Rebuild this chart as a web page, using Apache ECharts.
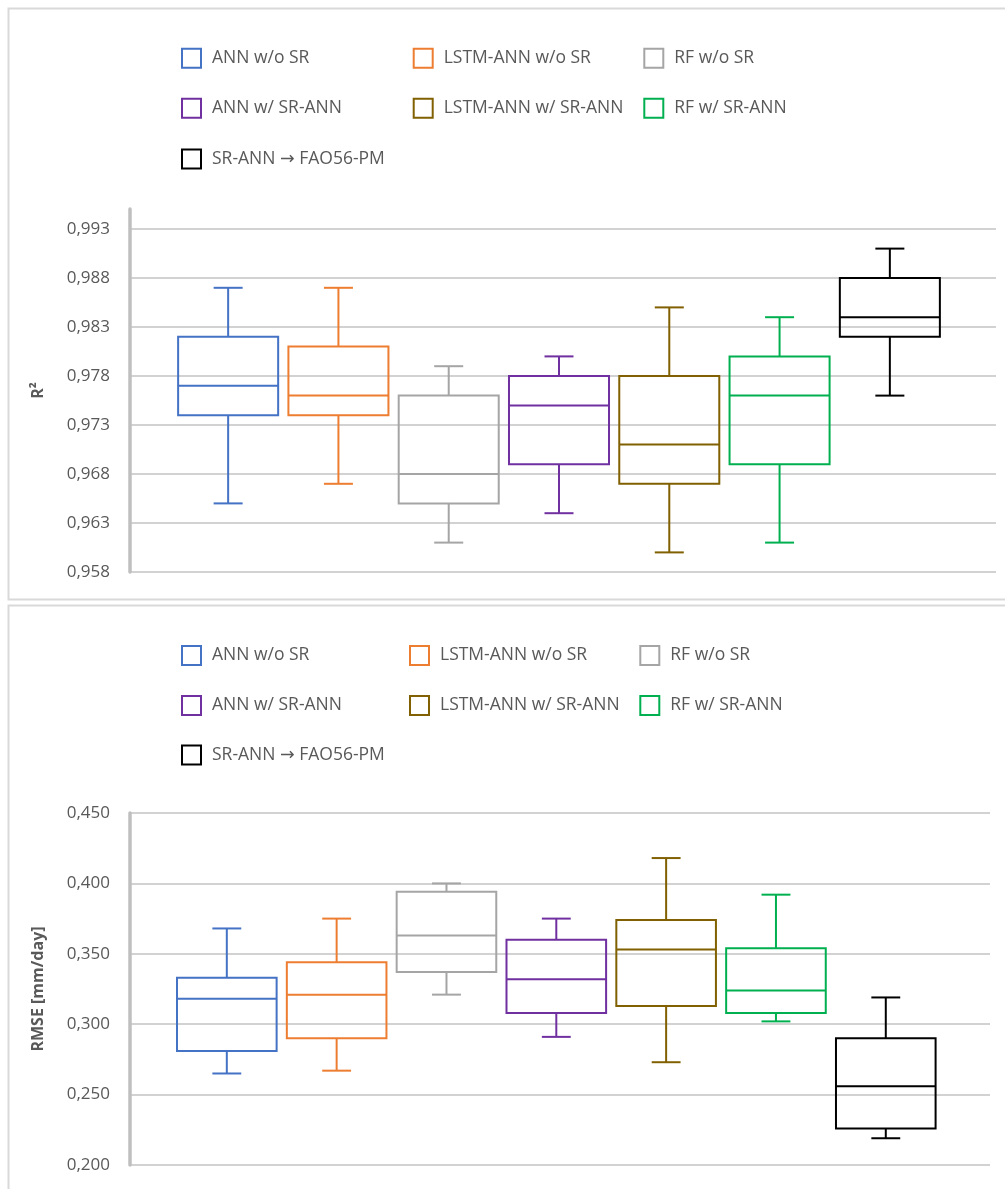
<!DOCTYPE html>
<html><head><meta charset="utf-8">
<script src="https://cdn.jsdelivr.net/npm/echarts@6/dist/echarts.min.js"></script>
<style>html,body{margin:0;padding:0;background:#fff}#c{width:1005px;height:1189px}</style>
</head><body><div id="c"></div>
<script>
// ---------- data ----------
const categories = ['ANN w/o SR','LSTM-ANN w/o SR','RF w/o SR','ANN w/ SR-ANN','LSTM-ANN w/ SR-ANN','RF w/ SR-ANN','SR-ANN \u2192 FAO56-PM'];
const colors = ['#4472C4','#ED7D31','#A5A5A5','#7030A0','#806000','#00B050','#000000'];

const r2Min    = [0.965, 0.967, 0.961, 0.964, 0.960, 0.961, 0.976];
const r2Q1     = [0.974, 0.974, 0.965, 0.969, 0.967, 0.969, 0.982];
const r2Median = [0.977, 0.976, 0.968, 0.975, 0.971, 0.976, 0.984];
const r2Q3     = [0.982, 0.981, 0.976, 0.978, 0.978, 0.980, 0.988];
const r2Max    = [0.987, 0.987, 0.979, 0.980, 0.985, 0.984, 0.991];

const rmseMin    = [0.265, 0.267, 0.321, 0.291, 0.273, 0.302, 0.219];
const rmseQ1     = [0.281, 0.290, 0.337, 0.308, 0.313, 0.308, 0.226];
const rmseMedian = [0.318, 0.321, 0.363, 0.332, 0.353, 0.324, 0.256];
const rmseQ3     = [0.333, 0.344, 0.394, 0.360, 0.374, 0.354, 0.290];
const rmseMax    = [0.368, 0.375, 0.400, 0.375, 0.418, 0.392, 0.319];

const r2Axis   = {min: 0.958, max: 0.993, interval: 0.005, lineMax: 0.995, name: 'R\u00B2'};
const rmseAxis = {min: 0.200, max: 0.450, interval: 0.050, name: 'RMSE [mm/day]'};

// ---------- styling ----------
const FONT = "'Open Sans', 'DejaVu Sans', sans-serif";
const TXT = '#595959';
const GRID_LINE = '#D2D2D2';
const AXIS_LINE = '#BFBFBF';
const BOX_RATIO = 0.907, CAP_RATIO = 0.263;

function renderBox(params, api) {
  const i = api.value(0);
  const pMin = api.coord([i, api.value(1)]);
  const pQ1 = api.coord([i, api.value(2)]);
  const pMed = api.coord([i, api.value(3)]);
  const pQ3 = api.coord([i, api.value(4)]);
  const pMax = api.coord([i, api.value(5)]);
  const band = api.size([1, 0])[0];
  const bw = band * BOX_RATIO, cw = band * CAP_RATIO;
  const cx = pMed[0];
  const color = api.visual('color');
  const st = () => ({stroke: color, lineWidth: 2, fill: 'none'});
  const L = (x1, y1, x2, y2) => ({type: 'line', shape: {x1, y1, x2, y2}, style: st()});
  return {type: 'group', children: [
    {type: 'rect', shape: {x: cx - bw / 2, y: pQ3[1], width: bw, height: pQ1[1] - pQ3[1]}, style: st()},
    L(cx - bw / 2, pMed[1], cx + bw / 2, pMed[1]),
    L(cx, pQ3[1], cx, pMax[1]),
    L(cx, pQ1[1], cx, pMin[1]),
    L(cx - cw / 2, pMax[1], cx + cw / 2, pMax[1]),
    L(cx - cw / 2, pMin[1], cx + cw / 2, pMin[1])
  ]};
}

const fmt = v => v.toFixed(3).replace('.', ',');

const grid = [
  {left: 130, right: 9, top: 209, bottom: 617},            // 0 top axis line
  {left: 130, right: 9, top: 229, bottom: 617},            // 1 top gridlines/labels
  {left: 173, width: 772, top: 229, bottom: 617},          // 2 top data
  {left: 130, right: 15, top: 813, bottom: 24},            // 3 bottom gridlines/labels
  {left: 171.9, width: 768.8, top: 813, bottom: 24}        // 4 bottom data
];
const hiddenVal = g => ({type: 'value', gridIndex: g, show: false, min: 0, max: 1});
const hiddenCat = g => ({type: 'category', gridIndex: g, show: false, data: categories, boundaryGap: true});
const xAxis = [hiddenVal(0), hiddenVal(1), hiddenCat(2), hiddenVal(3), hiddenCat(4)];

const nameStyle = {fontFamily: FONT, fontSize: 16, fontWeight: 'bold', color: TXT};
const labelStyle = {fontFamily: FONT, fontSize: 17, color: TXT, margin: 20, formatter: fmt};
const yAxis = [
  {type: 'value', gridIndex: 0, min: r2Axis.min, max: r2Axis.lineMax,
   axisLine: {show: true, onZero: false, lineStyle: {color: AXIS_LINE, width: 3.5}},
   axisTick: {show: false}, axisLabel: {show: false}, splitLine: {show: false},
   name: r2Axis.name, nameLocation: 'middle', nameGap: 84, nameTextStyle: nameStyle},
  {type: 'value', gridIndex: 1, min: r2Axis.min, max: r2Axis.max, interval: r2Axis.interval,
   axisLine: {show: false}, axisTick: {show: false}, axisLabel: labelStyle,
   splitLine: {show: true, lineStyle: {color: GRID_LINE, width: 2}}},
  {type: 'value', gridIndex: 2, min: r2Axis.min, max: r2Axis.max, show: false},
  {type: 'value', gridIndex: 3, min: rmseAxis.min, max: rmseAxis.max, interval: rmseAxis.interval,
   axisLine: {show: true, onZero: false, lineStyle: {color: AXIS_LINE, width: 3.5}},
   axisTick: {show: false}, axisLabel: labelStyle,
   splitLine: {show: true, lineStyle: {color: GRID_LINE, width: 2}},
   name: rmseAxis.name, nameLocation: 'middle', nameGap: 84, nameTextStyle: nameStyle},
  {type: 'value', gridIndex: 4, min: rmseAxis.min, max: rmseAxis.max, show: false}
];

const series = [];
function addSeries(axisIdx, mins, q1s, meds, q3s, maxs) {
  categories.forEach((c, i) => {
    series.push({
      type: 'custom', name: c, xAxisIndex: axisIdx, yAxisIndex: axisIdx, silent: true,
      itemStyle: {color: colors[i]},
      encode: {x: 0, y: [1, 2, 3, 4, 5]},
      data: [[i, mins[i], q1s[i], meds[i], q3s[i], maxs[i]]],
      renderItem: renderBox
    });
  });
}
addSeries(2, r2Min, r2Q1, r2Median, r2Q3, r2Max);
addSeries(4, rmseMin, rmseQ1, rmseMedian, rmseQ3, rmseMax);

const legend = [];
function addLegends(cols, rowCenters) {
  categories.forEach((c, i) => {
    legend.push({
      data: [{name: c, icon: 'rect', itemStyle: {color: '#ffffff', borderColor: colors[i], borderWidth: 2}}],
      left: cols[i % 3], top: rowCenters[Math.floor(i / 3)] - 11,
      padding: 0, itemWidth: 19, itemHeight: 19, selectedMode: false,
      textStyle: {fontFamily: FONT, fontSize: 17.5, color: TXT, padding: [0, 0, 0, 6]}
    });
  });
}
addLegends([181, 412.7, 643.3], [58.7, 108.7, 159.5]);
addLegends([181, 409, 639.3], [656, 706, 755.5]);

const chart = echarts.init(document.getElementById('c'), null, {renderer: 'canvas'});
chart.setOption({
  backgroundColor: '#ffffff',
  animation: false,
  graphic: [
    {type: 'rect', shape: {x: 8.5, y: 8.5, width: 1010, height: 591}, style: {fill: 'none', stroke: '#D9D9D9', lineWidth: 2}, silent: true, z: -10},
    {type: 'rect', shape: {x: 8.5, y: 605.5, width: 1010, height: 600}, style: {fill: 'none', stroke: '#D9D9D9', lineWidth: 2}, silent: true, z: -10}
  ],
  grid, xAxis, yAxis, legend, series
});
</script></body></html>
